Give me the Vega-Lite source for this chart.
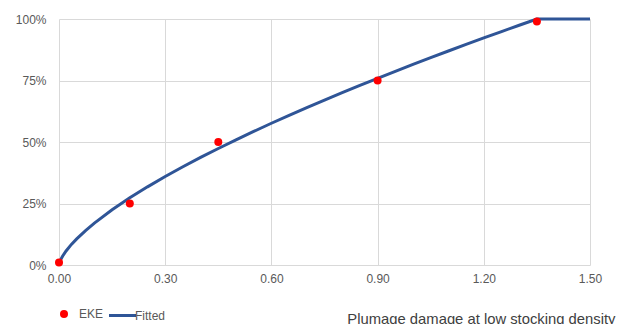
{
  "$schema": "https://vega.github.io/schema/vega-lite/v6.json",
  "width": 531,
  "height": 246,
  "autosize": {"type": "none"},
  "padding": {"left": 59, "top": 19, "right": 29, "bottom": 59},
  "background": "white",
  "config": {
    "view": {"stroke": null},
    "font": "Liberation Sans",
    "axis": {"labelColor": "#595959", "labelFontSize": 12, "gridColor": "#D9D9D9", "gridWidth": 1, "domain": false, "ticks": false},
    "legend": {"labelFontSize": 12, "labelColor": "#595959", "padding": 0}
  },
  "datasets": {
    "fit": [
      {"x": 0, "y": 0, "s": "Fitted"},
      {"x": 0.005, "y": 0.0222, "s": "Fitted"},
      {"x": 0.01, "y": 0.0356, "s": "Fitted"},
      {"x": 0.02, "y": 0.057, "s": "Fitted"},
      {"x": 0.035, "y": 0.0838, "s": "Fitted"},
      {"x": 0.05, "y": 0.1063, "s": "Fitted"},
      {"x": 0.075, "y": 0.1401, "s": "Fitted"},
      {"x": 0.1, "y": 0.1703, "s": "Fitted"},
      {"x": 0.15, "y": 0.2245, "s": "Fitted"},
      {"x": 0.2, "y": 0.273, "s": "Fitted"},
      {"x": 0.25, "y": 0.3177, "s": "Fitted"},
      {"x": 0.3, "y": 0.3596, "s": "Fitted"},
      {"x": 0.35, "y": 0.3994, "s": "Fitted"},
      {"x": 0.4, "y": 0.4373, "s": "Fitted"},
      {"x": 0.45, "y": 0.4737, "s": "Fitted"},
      {"x": 0.5, "y": 0.5089, "s": "Fitted"},
      {"x": 0.55, "y": 0.543, "s": "Fitted"},
      {"x": 0.6, "y": 0.5762, "s": "Fitted"},
      {"x": 0.65, "y": 0.6084, "s": "Fitted"},
      {"x": 0.7, "y": 0.6398, "s": "Fitted"},
      {"x": 0.75, "y": 0.6705, "s": "Fitted"},
      {"x": 0.8, "y": 0.7006, "s": "Fitted"},
      {"x": 0.85, "y": 0.7301, "s": "Fitted"},
      {"x": 0.9, "y": 0.759, "s": "Fitted"},
      {"x": 0.95, "y": 0.7874, "s": "Fitted"},
      {"x": 1.0, "y": 0.8154, "s": "Fitted"},
      {"x": 1.05, "y": 0.8429, "s": "Fitted"},
      {"x": 1.1, "y": 0.87, "s": "Fitted"},
      {"x": 1.15, "y": 0.8967, "s": "Fitted"},
      {"x": 1.2, "y": 0.923, "s": "Fitted"},
      {"x": 1.25, "y": 0.949, "s": "Fitted"},
      {"x": 1.3, "y": 0.9747, "s": "Fitted"},
      {"x": 1.35, "y": 1.0, "s": "Fitted"},
      {"x": 1.5, "y": 1.0, "s": "Fitted"}
    ],
    "eke": [
      {"x": 0, "y": 0.01, "s": "EKE"},
      {"x": 0.2, "y": 0.25, "s": "EKE"},
      {"x": 0.45, "y": 0.5, "s": "EKE"},
      {"x": 0.9, "y": 0.75, "s": "EKE"},
      {"x": 1.35, "y": 0.99, "s": "EKE"}
    ]
  },
  "encoding": {
    "x": {"field": "x", "type": "quantitative",
      "scale": {"domain": [0, 1.5], "nice": false},
      "axis": {"values": [0, 0.3, 0.6, 0.9, 1.2, 1.5], "format": ".2f", "labelPadding": 8, "labelFlush": false,
        "title": "Plumage damage at low stocking density", "titleFontSize": 14.8, "titleFontWeight": "normal", "titleColor": "#404040",
        "titleAnchor": "end", "titleAlign": "right", "titleX": 556, "titleY": 58, "titleBaseline": "alphabetic"}},
    "y": {"field": "y", "type": "quantitative",
      "scale": {"domain": [0, 1], "nice": false},
      "axis": {"values": [0, 0.25, 0.5, 0.75, 1], "format": ".0%", "labelPadding": 13, "title": null}}
  },
  "layer": [
    {"data": {"name": "fit"}, "mark": {"type": "line", "strokeWidth": 3},
      "encoding": {"stroke": {"field": "s", "type": "nominal",
        "scale": {"domain": ["Fitted"], "range": ["#2F5597"]},
        "legend": {"title": null, "orient": "none", "legendX": 48, "legendY": 281,
          "symbolType": "stroke", "symbolSize": 730, "symbolStrokeWidth": 3, "labelOffset": -3}}}},
    {"data": {"name": "eke"}, "mark": {"type": "circle", "size": 64, "opacity": 1},
      "encoding": {"color": {"field": "s", "type": "nominal",
        "scale": {"domain": ["EKE"], "range": ["#FF0000"]},
        "legend": {"title": null, "orient": "none", "legendX": -1, "legendY": 289,
          "symbolType": "circle", "symbolSize": 64, "symbolStrokeWidth": 0, "symbolOpacity": 1, "labelOffset": 9}}}}
  ]
}
